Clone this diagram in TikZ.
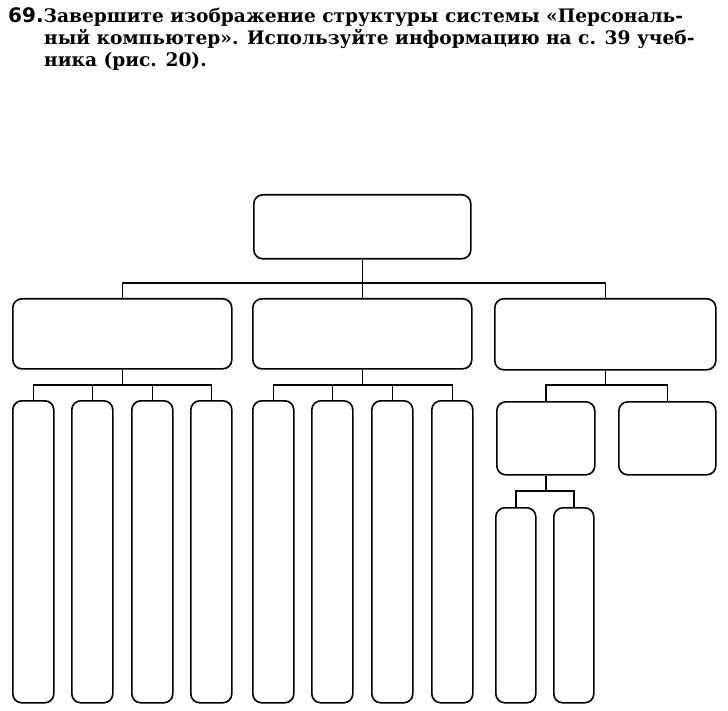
\documentclass[tikz,border=0pt]{standalone}
\usepackage{fontspec}
\setmainfont{DejaVu Serif}
\newfontfamily\numfont{DejaVu Sans}
\usetikzlibrary{positioning}
\tikzset{
  blk/.style={draw, line width=1.6pt, rounded corners=9pt, inner sep=0pt, anchor=north west},
  wire/.style={line width=1.4pt}
}
\begin{document}
\begin{tikzpicture}[x=1pt,y=-1pt]
\useasboundingbox (0,0) rectangle (728,711);
% task text
\node[anchor=north west, inner sep=0pt, align=left, font=\fontsize{18.6}{22}\selectfont\bfseries] (task) at (8,7)
  {{\numfont\fontsize{20}{22}\selectfont 69.}Завершите изображение структуры системы «Персональ-\\
   \hspace*{36pt}ный компьютер». Используйте информацию на с. 39 учеб-\\
   \hspace*{36pt}ника (рис. 20).};
% boxes
\node[blk, minimum width=217pt, minimum height=64pt] (pc) at (253,194) {};
\node[blk, minimum width=219pt, minimum height=70pt] (b1) at (12,298) {};
\node[blk, minimum width=219pt, minimum height=70pt] (b2) at (252,298) {};
\node[blk, minimum width=221pt, minimum height=71pt] (b3) at (494,298) {};
\foreach \i/\x in {1/12,2/71,3/131,4/190}
  \node[blk, minimum width=41pt, minimum height=302pt] (a\i) at (\x,400) {};
\foreach \i/\x in {1/252,2/311,3/371,4/431}
  \node[blk, minimum width=41pt, minimum height=302pt] (c\i) at (\x,400) {};
\node[blk, minimum width=98pt, minimum height=73pt] (d1) at (496,401) {};
\node[blk, minimum width=97pt, minimum height=73pt] (d2) at (618,401) {};
\node[blk, minimum width=40pt, minimum height=195pt] (e1) at (495,507) {};
\node[blk, minimum width=40pt, minimum height=195pt] (e2) at (553,507) {};
% connectors
\coordinate (bus0) at (0,283);
\coordinate (bus1) at (0,385);
\coordinate (bus2) at (0,491);
\draw[wire] (pc.south) -- (pc.south |- bus0);
\draw[wire] (b1.north) -- (b1.north |- bus0) -- (b3.north |- bus0) -- (b3.north);
\draw[wire] (b2.north) -- (b2.north |- bus0);
\draw[wire] (b1.south) -- (b1.south |- bus1);
\draw[wire] (a1.north) -- (a1.north |- bus1) -- (a4.north |- bus1) -- (a4.north);
\draw[wire] (a2.north) -- (a2.north |- bus1);
\draw[wire] (a3.north) -- (a3.north |- bus1);
\draw[wire] (b2.south) -- (b2.south |- bus1);
\draw[wire] (c1.north) -- (c1.north |- bus1) -- (c4.north |- bus1) -- (c4.north);
\draw[wire] (c2.north) -- (c2.north |- bus1);
\draw[wire] (c3.north) -- (c3.north |- bus1);
\draw[wire] (b3.south) -- (b3.south |- bus1);
\draw[wire] (d1.north) -- (d1.north |- bus1) -- (d2.north |- bus1) -- (d2.north);
\draw[wire] (d1.south) -- (d1.south |- bus2);
\draw[wire] (e1.north) -- (e1.north |- bus2) -- (e2.north |- bus2) -- (e2.north);
\end{tikzpicture}
\end{document}
